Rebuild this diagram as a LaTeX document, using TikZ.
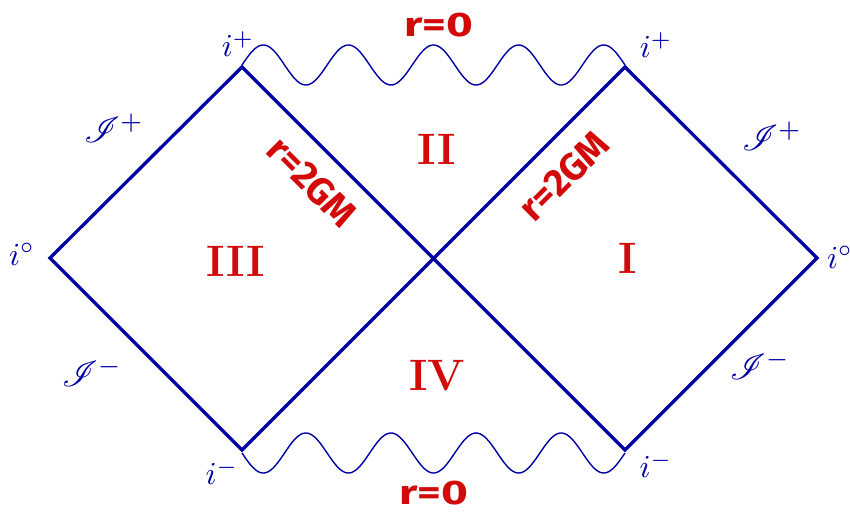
\documentclass[tikz,border=0pt]{standalone}
\usepackage{fontspec}
\usepackage{mathrsfs}
\newfontfamily\handfont{Fira Sans}
\definecolor{pblue}{RGB}{0,0,165}
\definecolor{pred}{RGB}{210,10,10}
\begin{document}
\begin{tikzpicture}[x=1pt,y=-1pt,
  edge/.style={draw=pblue,line width=3.3pt,line join=miter},
  wave/.style={draw=pblue,line width=1.4pt},
  redlab/.style={text=pred,font=\handfont\bfseries\fontsize{34}{34}\selectfont,inner sep=0pt},
  gmlab/.style={text=pred,font=\handfont\bfseries\fontsize{38}{38}\selectfont,inner sep=0pt},
  romlab/.style={text=pred,font=\bfseries\fontsize{44}{44}\selectfont,inner sep=0pt},
  bluelab/.style={text=pblue,font=\normalsize,scale=3.2,inner sep=0pt},
  scrilab/.style={text=pblue,font=\normalsize,scale=3.6,inner sep=0pt}]
\useasboundingbox (0,0) rectangle (850,513);
\coordinate (L) at (50,258);
\coordinate (TL) at (242,67);
\coordinate (C) at (432,258);
\coordinate (TR) at (625,67);
\coordinate (R) at (817,258);
\coordinate (BL) at (242,450);
\coordinate (BR) at (625,450);
\draw[edge] (TL) -- (L) -- (BL) -- (TR) -- (R) -- (BR) -- (TL) -- cycle;
\draw[wave] plot[smooth,samples=220,domain=0:383] ({242+\x},{65-20*sin(\x/383*1620)});
\draw[wave] plot[smooth,samples=220,domain=0:383] ({242+\x},{453+20*sin(\x/383*1620)});
% labels
\node[redlab,xscale=1.35] (rtop) at (439,25) {r=0};
\node[redlab,xscale=1.35] (rbot) at (434,493) {r=0};
\node[gmlab,rotate=-45] (hl) at (312,182) {r=2GM};
\node[gmlab,rotate=45] (hr) at (564,176) {r=2GM};
\node[romlab] (II) at (437,149) {II};
\node[romlab] (III) at (236,261) {III};
\node[romlab] (I) at (628,258) {I};
\node[romlab] (IV) at (437,376) {IV};
\node[bluelab] (ip1) at (238,44) {$i^{+}$};
\node[bluelab] (ip2) at (656,45) {$i^{+}$};
\node[bluelab] (im1) at (222,472) {$i^{-}$};
\node[bluelab] (im2) at (656,465) {$i^{-}$};
\node[bluelab] (i01) at (22,254) {$i^{\circ}$};
\node[bluelab] (i02) at (840,257) {$i^{\circ}$};
\node[scrilab] (s1) at (114,128) {$\mathscr{I}^{+}$};
\node[scrilab] (s2) at (772,136) {$\mathscr{I}^{+}$};
\node[scrilab] (s3) at (92,372) {$\mathscr{I}^{-}$};
\node[scrilab] (s4) at (760,365) {$\mathscr{I}^{-}$};
\end{tikzpicture}
\end{document}
